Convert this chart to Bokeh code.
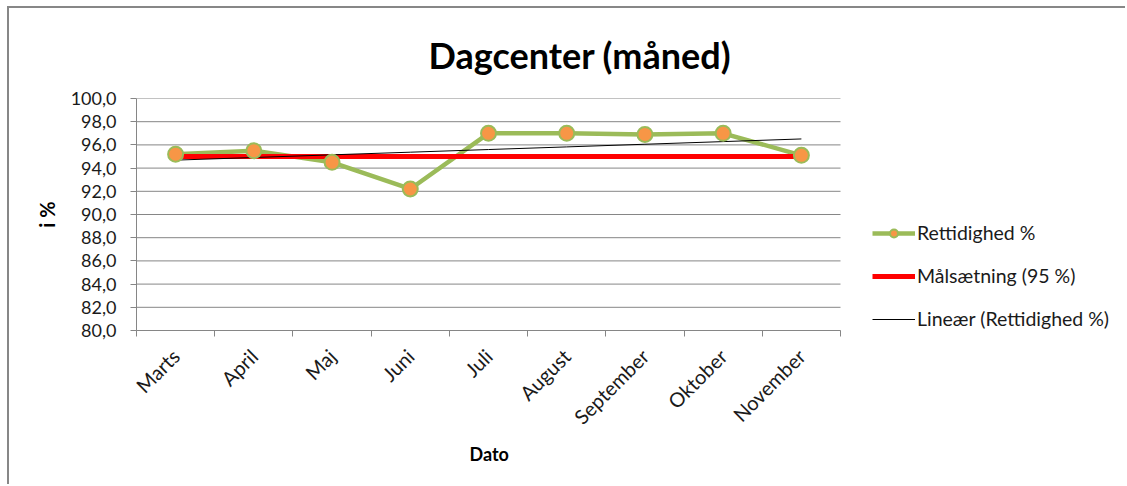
import numpy as np
from bokeh.plotting import figure
from bokeh.models import FixedTicker, Legend, LegendItem, Range1d, ColumnDataSource, Title
from bokeh.embed import file_html
from bokeh.resources import INLINE

# ---- data ----
months = ["Marts", "April", "Maj", "Juni", "Juli", "August", "September", "Oktober", "November"]
rettidighed = [95.2, 95.5, 94.5, 92.2, 97.0, 97.0, 96.9, 97.0, 95.1]
maalsaetning = [95.0, 95.0, 95.0, 95.0, 95.0, 95.0, 95.0, 95.0, 95.0]
y_ticks = [80, 82, 84, 86, 88, 90, 92, 94, 96, 98, 100]
y_tick_labels = ["80,0", "82,0", "84,0", "86,0", "88,0", "90,0", "92,0", "94,0", "96,0", "98,0", "100,0"]

FONT = "Lato"
GRID = "#868686"

# layout (pixels)
FIG_W, FIG_H = 1118, 478
LEFT, TOP, BOTTOM = 127, 90, 156
AXIS_W = 704                      # width of the category axis
FRAME_W = FIG_W - LEFT            # frame extends to the right edge (legend lives inside)

n = len(months)
xpos = np.arange(n) + 0.5
coef = np.polyfit(xpos, rettidighed, 1)
trend = np.polyval(coef, xpos)

src = ColumnDataSource(dict(x=xpos, y=rettidighed, goal=maalsaetning, trend=trend))

p = figure(width=FIG_W, height=FIG_H,
           x_range=Range1d(0, n * FRAME_W / AXIS_W), y_range=Range1d(80, 100),
           output_backend="svg", toolbar_location=None,
           min_border_left=LEFT, min_border_right=0, min_border_top=TOP, min_border_bottom=BOTTOM,
           background_fill_color="white", border_fill_color="white",
           styles={"border-left": "2px solid #878787", "border-top": "2px solid #878787",
                   "margin-left": "7px", "margin-top": "6px"})
p.outline_line_color = None

# title
p.title.text = "Dagcenter (måned)"
p.title.align = "left"
p.title.text_font = FONT
p.title.text_font_style = "bold"
p.title.text_font_size = "36px"
p.title.text_color = "#000000"
p.title.offset = 292
p.title.standoff = 43

# y axis
ya = p.yaxis[0]
ya.ticker = FixedTicker(ticks=y_ticks)
ya.major_label_overrides = {t: l for t, l in zip(y_ticks, y_tick_labels)}
ya.axis_line_color = GRID
ya.major_tick_line_color = GRID
ya.major_tick_out = 6
ya.major_tick_in = 0
ya.minor_tick_line_color = None
ya.major_label_text_font = FONT
ya.major_label_text_font_size = "18px"
ya.major_label_text_color = "#1a1a1a"
ya.major_label_standoff = 14
ya.axis_label = "i %"
ya.axis_label_text_font = FONT
ya.axis_label_text_font_style = "bold"
ya.axis_label_text_font_size = "20px"
ya.axis_label_text_color = "#000000"
ya.axis_label_standoff = 9

# x axis
xa = p.xaxis[0]
xa.bounds = (0, n)
xa.ticker = FixedTicker(ticks=list(xpos), minor_ticks=list(np.arange(n + 1)))
xa.major_label_overrides = {float(x): m for x, m in zip(xpos, months)}
xa.axis_line_color = GRID
xa.major_tick_line_color = None
xa.minor_tick_line_color = GRID
xa.minor_tick_out = 6
xa.minor_tick_in = 0
xa.major_label_orientation = np.pi / 4
xa.major_label_text_font = FONT
xa.major_label_text_font_size = "20px"
xa.major_label_text_color = "#1a1a1a"
xa.major_label_standoff = 16

# x axis title, centred under the category axis
p.add_layout(Title(text="Dato", align="left", offset=333, standoff=1,
                   text_font=FONT, text_font_style="bold", text_font_size="18px",
                   text_color="#000000"), "below")

p.xgrid.grid_line_color = None
p.ygrid.grid_line_color = None
# horizontal gridlines limited to the category axis extent
p.segment(x0=0, x1=n, y0=y_ticks, y1=y_ticks, line_color=GRID, line_width=1)

# series
r_line = p.line("x", "y", source=src, line_color="#9BBB59", line_width=4.5)
r_goal = p.line("x", "goal", source=src, line_color="#FF0000", line_width=5)
r_trend = p.line("x", "trend", source=src, line_color="#000000", line_width=1)
r_pts = p.scatter("x", "y", source=src, size=15, fill_color="#F79646",
                  line_color="#9BBB59", line_width=2)

legend = Legend(items=[
    LegendItem(label="Rettidighed %", renderers=[r_line, r_pts]),
    LegendItem(label="Målsætning (95 %)", renderers=[r_goal]),
    LegendItem(label="Lineær (Rettidighed %)", renderers=[r_trend]),
], location=(736, 0), border_line_color=None, background_fill_alpha=0,
    padding=0, margin=0, spacing=20, glyph_width=43, glyph_height=20,
    label_height=20, label_standoff=2, label_text_font=FONT,
    label_text_font_size="19.5px", label_text_color="#1a1a1a")
p.add_layout(legend)

open("out.html", "w").write(file_html(p, INLINE))
